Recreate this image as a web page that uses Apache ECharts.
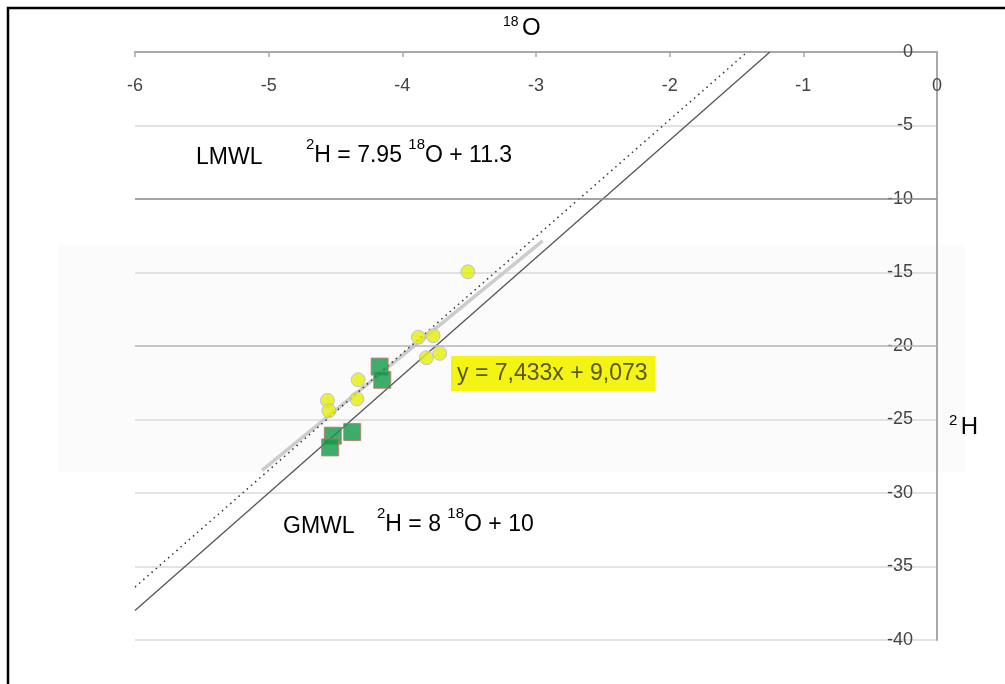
<!DOCTYPE html>
<html>
<head>
<meta charset="utf-8">
<script src="https://cdn.jsdelivr.net/npm/echarts@6/dist/echarts.min.js"></script>
<style>
html,body{margin:0;padding:0;background:#fff;}
#c{width:1005px;height:684px;}
</style>
</head>
<body>
<div id="c"></div>
<script>
// Data
const yellowPoints = [[-3.51,-14.95],[-3.88,-19.4],[-3.77,-19.3],[-3.72,-20.5],[-3.82,-20.8],[-4.33,-22.3],[-4.34,-23.6],[-4.56,-23.7],[-4.55,-24.4]];
const greenPoints = [[-4.17,-21.4],[-4.15,-22.3],[-4.52,-26.1],[-4.375,-25.85],[-4.54,-26.9]];
const lmwlLine = [[-6,-36.4],[-1.42,0]];
const gmwlLine = [[-6,-38],[-1.25,0]];
const trendLine = [[-5.05,-28.46],[-2.95,-12.85]];
const darkGridLine = [-10];
const midGridLine = [-20];
const trendText = 'y = 7,433x + 9,073';

const chart = echarts.init(document.getElementById('c'), null, {renderer:'canvas'});
const axisGray = '#a8a8a8';
const labelFont = 'Liberation Sans, Arial, sans-serif';
const option = {
  backgroundColor:'#fff',
  animation:false,
  grid:{left:135,right:68,top:52,bottom:44},
  xAxis:{
    type:'value',min:-6,max:0,interval:1,position:'top',
    axisLine:{show:true,onZero:false,lineStyle:{color:axisGray,width:2}},
    axisTick:{show:true,inside:true,length:5,lineStyle:{color:axisGray,width:1.5}},
    axisLabel:{inside:true,margin:25,color:'#444',fontSize:18,fontFamily:labelFont},
    splitLine:{show:false}
  },
  yAxis:{
    type:'value',min:-40,max:0,interval:5,position:'right',
    axisLine:{show:true,onZero:false,lineStyle:{color:axisGray,width:2}},
    axisTick:{show:false},
    axisLabel:{inside:true,margin:24,color:'#444',fontSize:18,fontFamily:labelFont},
    splitLine:{show:true,lineStyle:{color:'#dadada',width:1.5}}
  },
  graphic:[
    {type:'rect',z:-10,shape:{x:58,y:245,width:907,height:227},style:{fill:'#fbfbfb'},silent:true},
    {type:'rect',z:100,shape:{x:8,y:8,width:1100,height:800},style:{fill:'none',stroke:'#000',lineWidth:2.5},silent:true},
    {type:'text',z:100,x:503,y:15,style:{text:'{s|18} {b|O}',rich:{s:{fontSize:14,fontFamily:labelFont,fill:'#000',verticalAlign:'top',lineHeight:26},b:{fontSize:24,fontFamily:labelFont,fill:'#000',lineHeight:26}}}},
    {type:'text',z:100,x:949,y:413,style:{text:'{s|2} {b|H}',rich:{s:{fontSize:15,fontFamily:labelFont,fill:'#000',verticalAlign:'top',lineHeight:28},b:{fontSize:24,fontFamily:labelFont,fill:'#000',lineHeight:28}}}},
    {type:'text',z:100,x:196,y:146,style:{text:'LMWL',fontSize:23,fontFamily:labelFont,fill:'#000'}},
    {type:'text',z:100,x:306,y:137,style:{text:'{s|2}{b|H = 7.95 }{s|18}{b|O + 11.3}',rich:{s:{fontSize:15,fontFamily:labelFont,fill:'#000',verticalAlign:'top',lineHeight:30},b:{fontSize:23,fontFamily:labelFont,fill:'#000',lineHeight:30,verticalAlign:'bottom'}}}},
    {type:'text',z:100,x:283,y:515,style:{text:'GMWL',fontSize:23,fontFamily:labelFont,fill:'#000'}},
    {type:'text',z:100,x:377,y:506,style:{text:'{s|2}{b|H = 8 }{s|18}{b|O + 10}',rich:{s:{fontSize:15,fontFamily:labelFont,fill:'#000',verticalAlign:'top',lineHeight:30},b:{fontSize:23,fontFamily:labelFont,fill:'#000',lineHeight:30,verticalAlign:'bottom'}}}},
    {type:'text',z:100,x:451,y:356,style:{text:trendText,fontSize:23,fontFamily:'Liberation Sans, Arial, sans-serif',fill:'#585810',backgroundColor:'#f4f414',padding:[6,8,6,6]}}
  ],
  series:[
    {type:'line',data:[],markLine:{silent:true,symbol:'none',label:{show:false},lineStyle:{type:'solid',color:'#8f8f8f',width:1.5},data:darkGridLine.map(v=>({yAxis:v}))},z:1},
    {type:'line',data:[],markLine:{silent:true,symbol:'none',label:{show:false},lineStyle:{type:'solid',color:'#bdbdbd',width:1.5},data:midGridLine.map(v=>({yAxis:v}))},z:1},
    {type:'line',data:trendLine,showSymbol:false,symbol:'none',lineStyle:{color:'#cccccc',width:3.5},z:2},
    {type:'line',data:lmwlLine,showSymbol:false,symbol:'none',lineStyle:{color:'#333',width:1.5,type:[1.5,4]},z:3},
    {type:'line',data:gmwlLine,showSymbol:false,symbol:'none',lineStyle:{color:'#555',width:1.3},z:3},
    {type:'scatter',data:greenPoints,symbol:'rect',symbolSize:17,itemStyle:{color:'#0f9a48',borderColor:'#c8706a',borderWidth:1},z:4},
    {type:'scatter',data:yellowPoints,symbol:'circle',symbolSize:14,itemStyle:{color:'#e4ee0a',borderColor:'#b4b4ee',borderWidth:1},z:5}
  ]
};
chart.setOption(option);
</script>
</body>
</html>
